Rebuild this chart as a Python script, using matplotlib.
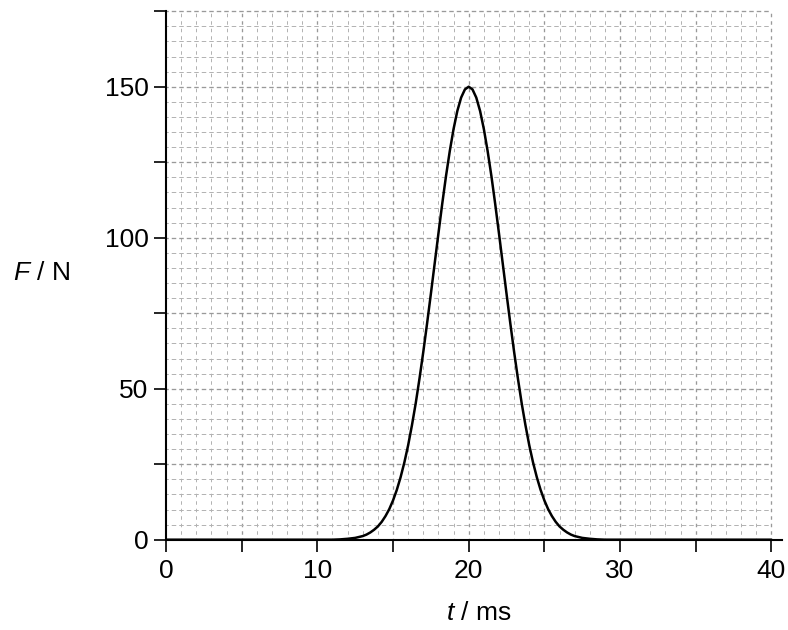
import matplotlib
matplotlib.use('Agg')
import matplotlib.pyplot as plt

plt.rcParams['font.family'] = ['Liberation Sans', 'DejaVu Sans']
plt.rcParams['mathtext.fontset'] = 'custom'
plt.rcParams['mathtext.rm'] = 'Liberation Sans'
plt.rcParams['mathtext.it'] = 'Liberation Sans:italic'
plt.rcParams['lines.scale_dashes'] = False

# ---- data ----
t_ms = [0, 11, 11.5, 12, 12.5, 13, 13.25, 13.5, 13.75, 14, 14.25, 14.5, 14.75,
        15, 15.25, 15.5, 15.75, 16, 16.25, 16.5, 16.75, 17, 17.25, 17.5, 17.75,
        18, 18.25, 18.5, 18.75, 19, 19.25, 19.5, 19.75, 20,
        20.25, 20.5, 20.75, 21, 21.25, 21.5, 21.75, 22, 22.25, 22.5, 22.75,
        23, 23.25, 23.5, 23.75, 24, 24.25, 24.5, 24.75, 25, 25.25, 25.5, 25.75,
        26, 26.25, 26.5, 26.75, 27, 27.5, 28, 28.5, 29, 40]
force_N = [0, 0, 0.1, 0.3, 0.6, 1.2, 1.7, 2.4, 3.3, 4.4, 5.9, 7.8, 10.1,
           13.0, 16.5, 20.7, 25.6, 31.3, 37.9, 45.2, 53.4, 62.2, 71.6, 81.4, 91.4,
           101.4, 111.2, 120.4, 128.7, 136.0, 142.0, 146.4, 149.1, 150.0,
           149.1, 146.4, 142.0, 136.0, 128.7, 120.4, 111.2, 101.4, 91.4, 81.4, 71.6,
           62.2, 53.4, 45.2, 37.9, 31.3, 25.6, 20.7, 16.5, 13.0, 10.1, 7.8, 5.9,
           4.4, 3.3, 2.4, 1.7, 1.2, 0.6, 0.3, 0.1, 0, 0]

x_ticks = [0, 5, 10, 15, 20, 25, 30, 35, 40]
x_tick_labels = ['0', '', '10', '', '20', '', '30', '', '40']
y_ticks = [0, 25, 50, 75, 100, 125, 150, 175]
y_tick_labels = ['0', '', '50', '', '100', '', '150', '']
x_grid = list(range(1, 41))
y_grid = list(range(5, 180, 5))
x_max_grid = 40
y_max_grid = 175

W, H = 788, 630
fig = plt.figure(figsize=(W / 100, H / 100), dpi=100)
ax = fig.add_axes([166 / W, (H - 539.7) / H, 616 / W, 528.5 / H])
ax.set_xlim(0, 40.7)
ax.set_ylim(0, 175)

# grid
px = 0.72
for xv in x_grid:
    major = xv % 5 == 0
    ax.plot([xv, xv], [0, y_max_grid], color='#999999' if major else '#b3b3b3',
            lw=1.0 * px if not major else 1.3 * px,
            linestyle=(1.75 * px, (3.5 * px, 4.0 * px)), zorder=1, clip_on=False)
for yv in y_grid:
    major = yv % 25 == 0
    ax.plot([0, x_max_grid], [yv, yv], color='#999999' if major else '#b3b3b3',
            lw=1.0 * px if not major else 1.3 * px,
            linestyle=(2.25 * px, (4.5 * px, 3.0 * px)), zorder=1, clip_on=False)

ax.plot(t_ms, force_N, color='black', lw=1.8, zorder=3, solid_capstyle='round')

for s in ['top', 'right']:
    ax.spines[s].set_visible(False)
for s in ['left', 'bottom']:
    ax.spines[s].set_linewidth(1.5)
    ax.spines[s].set_color('black')
ax.spines['left'].set_bounds(0, 175)

ax.set_xticks(x_ticks)
ax.set_xticklabels(x_tick_labels)
ax.set_yticks(y_ticks)
ax.set_yticklabels(y_tick_labels)
ax.tick_params(axis='both', direction='out', length=8.6, width=1.2,
               labelsize=19, colors='black')
ax.tick_params(axis='x', pad=5)
ax.tick_params(axis='y', pad=4)

fig.text(13 / W, 1 - 273.5 / H, r'$F$ / N', fontsize=19, ha='left', va='center')
fig.text(478.7 / W, 1 - 613 / H, r'$t$ / ms', fontsize=19, ha='center', va='center')

fig.savefig('out.png', dpi=100)
